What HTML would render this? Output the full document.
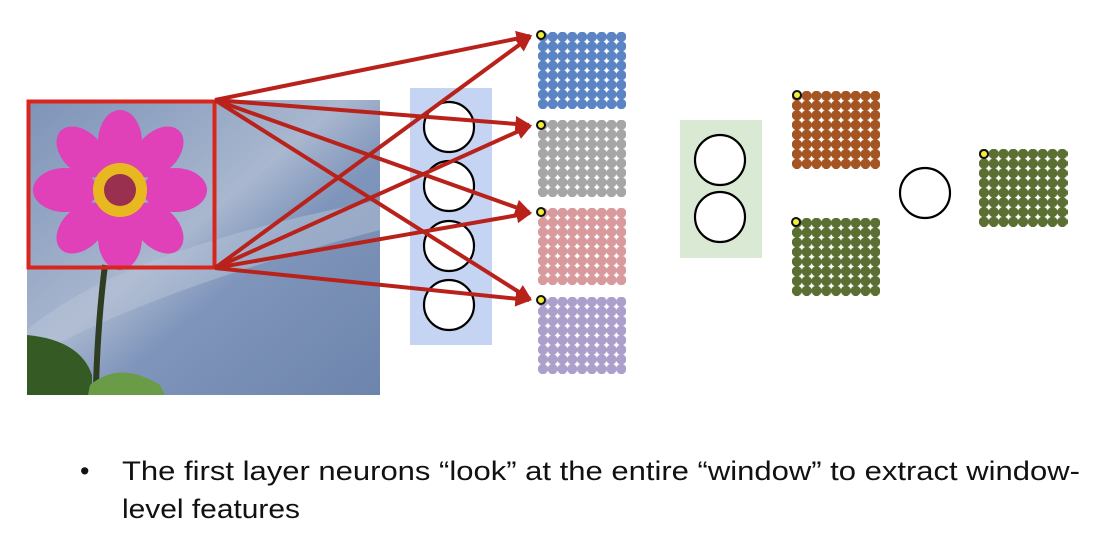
<!DOCTYPE html>
<html><head><meta charset="utf-8"><style>
html,body{margin:0;padding:0;background:#fff;width:1116px;height:548px;overflow:hidden}
</style></head><body>
<svg width="1116" height="548" viewBox="0 0 1116 548" xmlns="http://www.w3.org/2000/svg">
<defs>
<linearGradient id="sky" x1="0" y1="0" x2="1" y2="1">
<stop offset="0" stop-color="#7d93b8"/><stop offset="0.45" stop-color="#a9b7cf"/><stop offset="0.6" stop-color="#7f95bb"/><stop offset="1" stop-color="#6d84ac"/>
</linearGradient>
<pattern id="pb" width="9.8" height="9.6" patternUnits="userSpaceOnUse" x="538" y="32"><circle cx="4.9" cy="4.8" r="5.1" fill="#5b84c4"/></pattern>
<pattern id="pg" width="9.8" height="9.6" patternUnits="userSpaceOnUse" x="538" y="120"><circle cx="4.9" cy="4.8" r="5.1" fill="#a6a6a6"/></pattern>
<pattern id="pp" width="9.8" height="9.6" patternUnits="userSpaceOnUse" x="538" y="208"><circle cx="4.9" cy="4.8" r="5.1" fill="#d89a9c"/></pattern>
<pattern id="pv" width="9.8" height="9.6" patternUnits="userSpaceOnUse" x="538" y="297"><circle cx="4.9" cy="4.8" r="5.1" fill="#ac9fcb"/></pattern>
<pattern id="po" width="9.8" height="9.7" patternUnits="userSpaceOnUse" x="792" y="91"><circle cx="4.9" cy="4.85" r="5.1" fill="#a45522"/></pattern>
<pattern id="pn" width="9.8" height="9.7" patternUnits="userSpaceOnUse" x="792" y="218"><circle cx="4.9" cy="4.85" r="5.1" fill="#5c6f33"/></pattern>
<pattern id="pn2" width="9.8" height="9.7" patternUnits="userSpaceOnUse" x="979" y="149"><circle cx="4.9" cy="4.85" r="5.1" fill="#5c6f33"/></pattern>
<marker id="ah" markerWidth="4" markerHeight="4" refX="3.4" refY="2" orient="auto" markerUnits="strokeWidth"><path d="M0,0 L4,2 L0,4 z" fill="#b8221b"/></marker>
</defs>
<!-- image -->
<rect x="27" y="100" width="353" height="295" fill="url(#sky)"/>
<path d="M27 330 Q120 250 380 200 L380 230 Q150 290 27 360z" fill="#b8c4d8" opacity="0.5"/>
<path d="M105 265 Q98 320 96 385" stroke="#2f3d22" stroke-width="6" fill="none"/>
<path d="M27 335 Q80 340 92 375 L92 395 L27 395z" fill="#355a24"/>
<path d="M90 385 Q120 360 160 385 L165 395 L88 395z" fill="#6a9c48"/>
<g transform="translate(120,190)">
<g fill="#e040b8">
<ellipse cx="0" cy="-48" rx="22" ry="32"/>
<ellipse cx="0" cy="48" rx="22" ry="32"/>
<ellipse cx="-55" cy="0" rx="32" ry="22"/>
<ellipse cx="55" cy="0" rx="32" ry="22"/>
<ellipse cx="-38" cy="-38" rx="20" ry="30" transform="rotate(-45 -38 -38)"/>
<ellipse cx="38" cy="-38" rx="20" ry="30" transform="rotate(45 38 -38)"/>
<ellipse cx="-38" cy="38" rx="20" ry="30" transform="rotate(45 -38 38)"/>
<ellipse cx="38" cy="38" rx="20" ry="30" transform="rotate(-45 38 38)"/>
</g>
<circle r="27" fill="#e8b820"/><circle r="16" fill="#9a3050"/>
</g>
<rect x="28.5" y="101.5" width="186" height="166" fill="none" stroke="#d8261c" stroke-width="4"/>
<!-- blue panel -->
<rect x="410" y="88" width="82" height="257" fill="#c5d4f3"/>
<g fill="#fff" stroke="#000" stroke-width="2.2">
<circle cx="449" cy="127" r="25"/><circle cx="449" cy="186" r="25"/><circle cx="449" cy="246" r="25"/><circle cx="449" cy="305" r="25"/>
</g>
<!-- grids -->
<rect x="538" y="32" width="88" height="77" fill="url(#pb)"/>
<rect x="538" y="120" width="88" height="77" fill="url(#pg)"/>
<rect x="538" y="208" width="88" height="77" fill="url(#pp)"/>
<rect x="538" y="297" width="88" height="77" fill="url(#pv)"/>
<!-- arrows -->
<g stroke="#b8221b" stroke-width="4" fill="none" marker-end="url(#ah)">
<line x1="215" y1="100" x2="530" y2="36"/>
<line x1="215" y1="100" x2="529" y2="125"/>
<line x1="215" y1="100" x2="529" y2="212"/>
<line x1="215" y1="100" x2="530" y2="299"/>
<line x1="215" y1="268" x2="530" y2="37"/>
<line x1="215" y1="268" x2="530" y2="126"/>
<line x1="215" y1="268" x2="530" y2="213"/>
<line x1="215" y1="268" x2="529" y2="300"/>
</g>
<g fill="#f2f036" stroke="#111" stroke-width="2">
<circle cx="541" cy="35" r="4"/><circle cx="541" cy="125" r="4"/><circle cx="541" cy="212" r="4"/><circle cx="541" cy="300" r="4"/>
</g>
<!-- green panel -->
<rect x="680" y="120" width="82" height="138" fill="#d9e9d3"/>
<g fill="#fff" stroke="#000" stroke-width="2.2">
<circle cx="720" cy="160" r="25"/><circle cx="720" cy="217" r="25"/><circle cx="925" cy="193" r="25"/>
</g>
<rect x="792" y="91" width="88" height="78" fill="url(#po)"/>
<rect x="792" y="218" width="88" height="78" fill="url(#pn)"/>
<rect x="979" y="149" width="89" height="78" fill="url(#pn2)"/>
<g fill="#f2f036" stroke="#111" stroke-width="2">
<circle cx="797" cy="95" r="4"/><circle cx="796" cy="222" r="4"/><circle cx="984" cy="154" r="4"/>
</g>
<!-- text -->
<g font-family="Liberation Sans, Arial, sans-serif" font-size="27" fill="#111">
<text x="80" y="480">•</text>
<text x="122" y="480" textLength="958" lengthAdjust="spacingAndGlyphs">The first layer neurons “look” at the entire “window” to extract window-</text>
<text x="122" y="518" textLength="178" lengthAdjust="spacingAndGlyphs">level features</text>
</g>
</svg>
</body></html>
